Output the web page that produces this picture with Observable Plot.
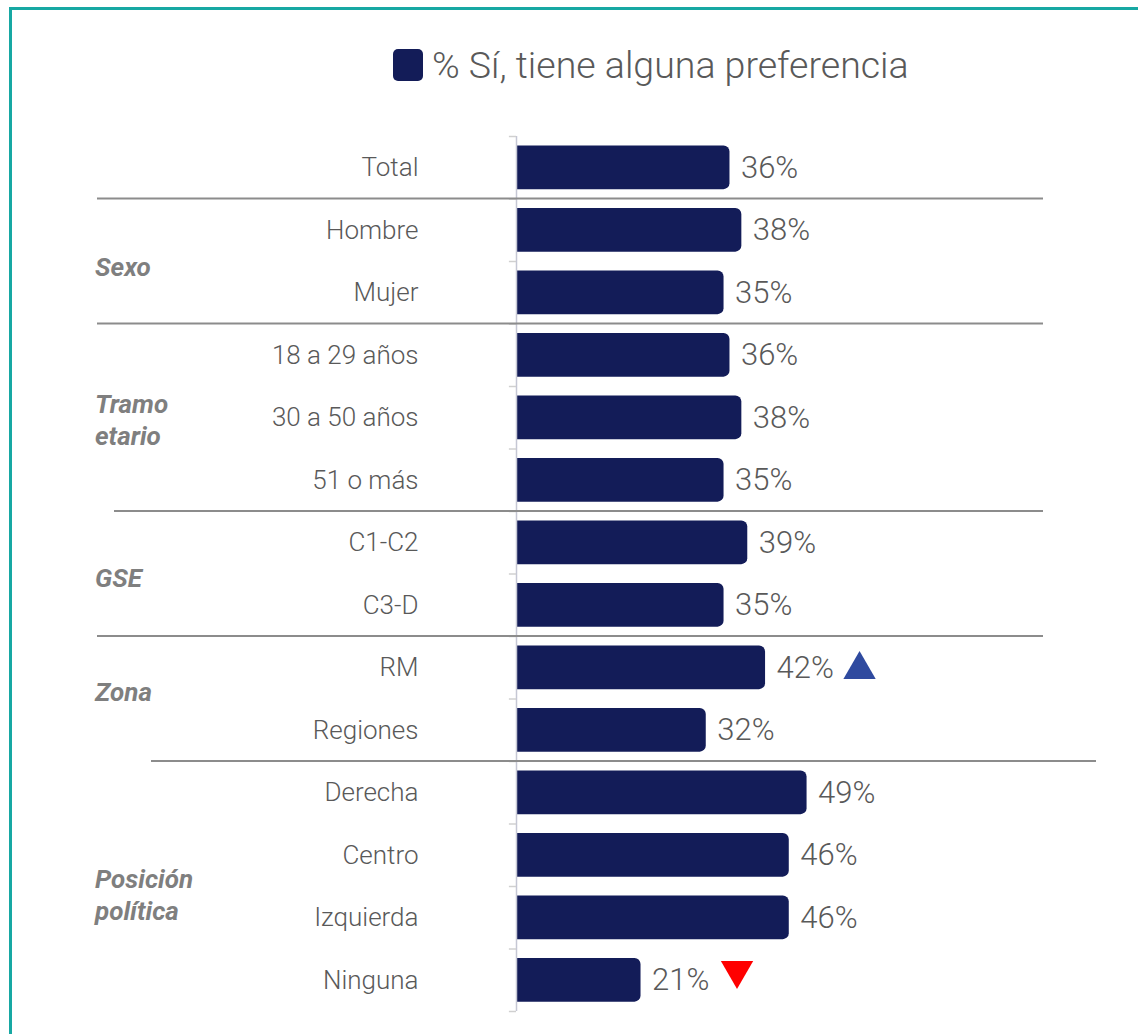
<!DOCTYPE html>
<html>
<head>
<meta charset="utf-8">
<script src="https://cdn.jsdelivr.net/npm/d3@7"></script>
<script src="https://cdn.jsdelivr.net/npm/@observablehq/plot@0.6"></script>
<style>
  html, body { margin: 0; padding: 0; background: #fff; }
  body { width: 1138px; height: 1034px; overflow: hidden; position: relative; font-family: Roboto, "Noto Sans", sans-serif; }
  #frame { position: absolute; left: 9px; top: 7px; width: 1200px; height: 1100px; border-top: 3px solid #17A8A3; border-left: 3px solid #17A8A3; }
  #legend { position: absolute; left: 393px; top: 43px; display: flex; align-items: center; color: #595959; font-size: 37.5px; font-weight: 300; white-space: nowrap; }
  #legend .sw { width: 30px; height: 32px; border-radius: 5px; background: #131C58; margin-right: 9px; }
  #chart { position: absolute; left: 0; top: 100px; }
</style>
</head>
<body>
<div id="frame"></div>
<div id="legend"></div>
<div id="chart"></div>
<script>
// ---- data ----
const categories = ["Total", "Hombre", "Mujer", "18 a 29 años", "30 a 50 años", "51 o más", "C1-C2", "C3-D", "RM", "Regiones", "Derecha", "Centro", "Izquierda", "Ninguna"];
const values = [36, 38, 35, 36, 38, 35, 39, 35, 42, 32, 49, 46, 46, 21];
const markers = [null, null, null, null, null, null, null, null, "up", null, null, null, null, "down"];
const groupNames = [["Sexo"], ["Tramo", "etario"], ["GSE"], ["Zona"], ["Posición", "política"]];
const groupMembers = [
  ["Hombre", "Mujer"],
  ["18 a 29 años", "30 a 50 años", "51 o más"],
  ["C1-C2", "C3-D"],
  ["RM", "Regiones"],
  ["Derecha", "Centro", "Izquierda", "Ninguna"]
];
const legendLabel = "% Sí, tiene alguna preferencia";

// ---- layout / style ----
const W = 1138, H = 934;
const navy = "#131C58", textGrey = "#595959";
const sepExtents = [[97, 1043], [97, 1043], [114, 1043], [97, 1043], [151, 1096]];
const groupLabelX = 95;
const groupLabelShift = [6, 3, 4, -7, 9];

const rows = categories.map((c, i) => ({category: c, value: values[i], marker: markers[i]}));

document.getElementById("legend").innerHTML = `<div class="sw"></div><span>${legendLabel}</span>`;

const step = (H - 36 - 23) / categories.length;

const plot = Plot.plot({
  width: W,
  height: H,
  marginTop: 36,
  marginBottom: 23,
  marginLeft: 516,
  marginRight: 29,
  style: {fontFamily: "Roboto, 'Noto Sans', sans-serif", color: textGrey, background: "transparent"},
  x: {domain: [0, 100], axis: null},
  y: {domain: categories, paddingInner: 0.3, paddingOuter: 0.15, round: false, label: null},
  marks: [
    // rounded bar, its left rounded corners clipped away at the axis
    Plot.barX(rows, {y: "category", x1: -1.5, x2: "value", fill: navy, rx: 6, clip: "frame"}),
    Plot.ruleX([0], {stroke: "#C5C7D4", strokeWidth: 1.5}),
    Plot.ruleY(categories, {y: d => d, x1: -1.2, x2: 0, dy: -step / 2, stroke: "#D0D0D0", strokeWidth: 1.5}),
    Plot.ruleY(categories.slice(-1), {y: d => d, x1: -1.2, x2: 0, dy: step / 2, stroke: "#D0D0D0", strokeWidth: 1.5}),
    Plot.axisY({tickSize: 0, tickPadding: 98, fontSize: 26, fontWeight: 300, label: null}),
    Plot.text(rows, {y: "category", x: "value", text: d => d.value + "%", dx: 11, textAnchor: "start", fontSize: 31, fontWeight: 300, fill: textGrey}),
    Plot.dot(rows.filter(d => d.marker === "up"), {y: "category", x: "value", symbol: "triangle", r: 12, fill: "#2F4A9F", dx: 94, dy: 2}),
    Plot.dot(rows.filter(d => d.marker === "down"), {y: "category", x: "value", symbol: "triangle", rotate: 180, r: 12, fill: "#FF0000", dx: 96, dy: -10})
  ]
});

// separators and group labels from the y scale
const ys = plot.scale("y");
const bw = ys.bandwidth;
const svg = d3.select(plot);
const g = svg.append("g").attr("text-anchor", "start");
groupMembers.forEach((members, i) => {
  const top = ys.apply(members[0]) - (step - bw) / 2;
  const [xa, xb] = sepExtents[i];
  g.append("line").attr("x1", xa).attr("x2", xb).attr("y1", top).attr("y2", top)
    .attr("stroke", "#8C8C8C").attr("stroke-width", 2);
  const c0 = ys.apply(members[0]) + bw / 2;
  const c1 = ys.apply(members[members.length - 1]) + bw / 2;
  const mid = (c0 + c1) / 2 + groupLabelShift[i];
  const lines = groupNames[i];
  const lh = 32;
  lines.forEach((t, j) => {
    g.append("text").attr("x", groupLabelX).attr("y", mid + (j - (lines.length - 1) / 2) * lh)
      .attr("dy", "0.35em").attr("fill", "#7F7F7F").attr("font-size", 26)
      .attr("text-anchor", "start")
      .attr("font-weight", "bold").attr("font-style", "italic").text(t);
  });
});

document.getElementById("chart").appendChild(plot);
</script>
</body>
</html>
